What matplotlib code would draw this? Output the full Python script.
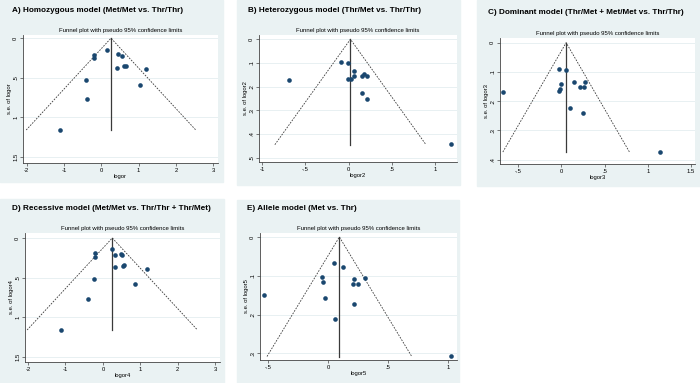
import matplotlib
matplotlib.use("Agg")
import matplotlib.pyplot as plt
from matplotlib.patches import Rectangle

plt.rcParams['font.family'] = ['Liberation Sans', 'DejaVu Sans']

W, H = 700, 383
bg = '#eaf2f3'
dot = '#1a476f'
lc = '#3a3a3a'

# panel titles
titles = ['A) Homozygous model (Met/Met vs. Thr/Thr)',
          'B) Heterozygous model (Thr/Met vs. Thr/Thr)',
          'C) Dominant model (Thr/Met + Met/Met vs. Thr/Thr)',
          'D) Recessive model (Met/Met vs. Thr/Thr + Thr/Met)',
          'E) Allele model (Met vs. Thr)']
xnames = ['logor', 'logor2', 'logor3', 'logor4', 'logor5']

# study estimates (log OR) and their standard errors
lor_a = [-1.12, -0.41, -0.38, -0.19, -0.19, 0.16, 0.46, 0.56, 0.41, 0.61, 0.65, 1.20, 1.05]
se_a = [1.16, 0.53, 0.77, 0.21, 0.25, 0.15, 0.20, 0.22, 0.38, 0.35, 0.35, 0.39, 0.59]
lor_b = [-0.687, -0.085, -0.008, -0.008, 0.031, 0.066, 0.066, 0.158, 0.18, 0.21, 0.15, 0.21, 1.18]
se_b = [0.174, 0.097, 0.100, 0.169, 0.167, 0.136, 0.154, 0.154, 0.147, 0.157, 0.227, 0.251, 0.444]
lor_c = [-0.674, -0.031, 0.054, 0.0, -0.016, -0.031, 0.147, 0.209, 0.256, 0.275, 0.097, 0.248, 1.143]
se_c = [0.168, 0.091, 0.094, 0.143, 0.157, 0.166, 0.133, 0.151, 0.151, 0.134, 0.222, 0.240, 0.375]
lor_d = [-1.12, -0.39, -0.24, -0.21, -0.20, 0.23, 0.31, 0.47, 0.51, 0.31, 0.54, 0.57, 1.17, 0.86]
se_d = [1.16, 0.77, 0.52, 0.19, 0.24, 0.14, 0.215, 0.20, 0.215, 0.36, 0.35, 0.34, 0.39, 0.58]
lor_e = [-0.54, 0.05, 0.123, -0.05, -0.045, -0.031, 0.217, 0.209, 0.251, 0.306, 0.214, 0.053, 1.025]
se_e = [0.150, 0.067, 0.077, 0.102, 0.117, 0.158, 0.107, 0.121, 0.122, 0.105, 0.173, 0.211, 0.306]

# pooled estimate and largest se (funnel apex / depth)
theta = [0.26, 0.02, 0.054, 0.25, 0.092]
maxse = [1.16, 0.445, 0.374, 1.16, 0.308]

xticks = [[-2, -1, 0, 1, 2, 3], [-1, -0.5, 0, 0.5, 1], [-0.5, 0, 0.5, 1, 1.5],
          [-2, -1, 0, 1, 2, 3], [-0.5, 0, 0.5, 1]]
xtlab = [['-2', '-1', '0', '1', '2', '3'], ['-1', '-.5', '0', '.5', '1'],
         ['-.5', '0', '.5', '1', '1.5'], ['-2', '-1', '0', '1', '2', '3'],
         ['-.5', '0', '.5', '1']]
yticks = [[0, 0.5, 1, 1.5], [0, 0.1, 0.2, 0.3, 0.4, 0.5], [0, 0.1, 0.2, 0.3, 0.4],
          [0, 0.5, 1, 1.5], [0, 0.1, 0.2, 0.3]]
ytlab = [['0', '.5', '1', '1.5'], ['0', '.1', '.2', '.3', '.4', '.5'],
         ['0', '.1', '.2', '.3', '.4'], ['0', '.5', '1', '1.5'], ['0', '.1', '.2', '.3']]

xs = [lor_a, lor_b, lor_c, lor_d, lor_e]
ys = [se_a, se_b, se_c, se_d, se_e]

# layout in pixels: panel box, title pos, axes box, limits
panels = [(0, 0, 223, 182), (237, 0, 460, 185), (477, 0, 700, 186),
          (0, 199, 224, 383), (237, 200, 459, 383)]
tpos = [(12, 10), (248, 10), (488, 13), (12, 208), (247, 208)]
axboxes = [(23, 35, 218, 163), (259, 35, 457, 162), (500, 38, 695, 164),
           (25, 233, 220, 362), (260, 233, 457, 360)]
xlims = [(-2.1, 3.13), (-1.035, 1.25), (-0.712, 1.546), (-2.08, 3.125), (-0.57, 1.073)]
ylims = [(-0.04, 1.577), (-0.018, 0.518), (-0.016, 0.415), (-0.063, 1.564), (-0.0103, 0.317)]

fig = plt.figure(figsize=(W / 100, H / 100), dpi=100)

for i in range(5):
    px0, py0, px1, py1 = panels[i]
    fig.patches.append(Rectangle((px0 / W, 1 - py1 / H), (px1 - px0) / W, (py1 - py0) / H,
                                 transform=fig.transFigure, color=bg, zorder=-5))
    fig.text(tpos[i][0] / W, 1 - tpos[i][1] / H, titles[i], fontsize=5.9, fontweight='bold',
             va='center', ha='left')

    ax0, ay0, ax1, ay1 = axboxes[i]
    ax = fig.add_axes([ax0 / W, 1 - ay1 / H, (ax1 - ax0) / W, (ay1 - ay0) / H])
    ax.set_facecolor('white')
    for s in ['top', 'right']:
        ax.spines[s].set_visible(False)
    for s in ['left', 'bottom']:
        ax.spines[s].set_color('#444444')
        ax.spines[s].set_linewidth(0.6)

    t, m = theta[i], maxse[i]
    ax.plot([t - 1.96 * m, t, t + 1.96 * m], [m, 0, m], ls=(0, (2, 1.5)), color=lc, lw=0.6)
    ax.plot([t, t], [0, m], color=lc, lw=0.9)
    ax.scatter(xs[i], ys[i], s=11, color=dot, zorder=3, linewidths=0)

    ax.set_xlim(*xlims[i])
    ax.set_ylim(ylims[i][1], ylims[i][0])
    ax.set_xticks(xticks[i])
    ax.set_xticklabels(xtlab[i])
    ax.set_yticks(yticks[i])
    ax.set_yticklabels(ytlab[i], rotation=90, va='center')
    ax.tick_params(labelsize=4.2, length=2, width=0.5, pad=1.5, color='#444444')
    ax.grid(axis='y', color='#e4eef0', lw=0.6)
    ax.set_axisbelow(True)
    ax.set_xlabel(xnames[i], fontsize=4.2, labelpad=1)
    ax.set_ylabel('s.e. of ' + xnames[i], fontsize=4.2, labelpad=1)
    ax.set_title('Funnel plot with pseudo 95% confidence limits', fontsize=4.3, pad=2)

fig.savefig('out.png', dpi=100)
